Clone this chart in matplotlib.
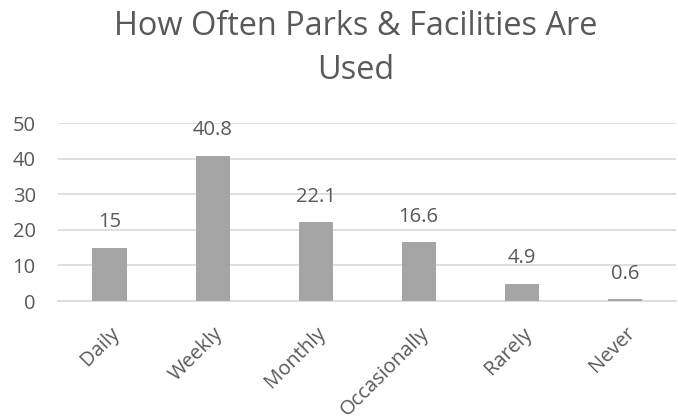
import matplotlib.pyplot as plt

categories = ["Daily", "Weekly", "Monthly", "Occasionally", "Rarely", "Never"]
values = [15, 40.8, 22.1, 16.6, 4.9, 0.6]
labels = ["15", "40.8", "22.1", "16.6", "4.9", "0.6"]
yticks = [0, 10, 20, 30, 40, 50]

plt.rcParams['font.family'] = ['Open Sans', 'DejaVu Sans']
text_color = '#595959'

fig = plt.figure(figsize=(6.78, 4.19), dpi=100)
ax = fig.add_axes([0.0855, 0.2816, 0.912, 0.4248])

x = range(len(categories))
bars = ax.bar(x, values, width=0.33, color='#A5A5A5', zorder=3)
for i, (v, lab) in enumerate(zip(values, labels)):
    ax.annotate(lab, (i, v), xytext=(0, 11), textcoords='offset points',
                ha='center', va='bottom', fontsize=14.5, color=text_color)

ax.set_xlim(-0.5, len(categories) - 0.5)
ax.set_ylim(0, 50)
ax.set_yticks(yticks)
ax.set_xticks(list(x))
ax.set_xticklabels(categories, rotation=45, ha='right', rotation_mode='anchor')
ax.tick_params(axis='both', length=0, colors=text_color, labelsize=14.5)
ax.tick_params(axis='y', pad=16)
ax.tick_params(axis='x', pad=16)
ax.grid(axis='y', color='#D9D9D9', linewidth=1.2, zorder=0)
for s in ['top', 'right', 'left']:
    ax.spines[s].set_visible(False)
ax.spines['bottom'].set_color('#D9D9D9')
ax.spines['bottom'].set_linewidth(1.2)

fig.text(0.524, 0.885, "How Often Parks & Facilities Are\nUsed", ha='center', va='center',
         fontsize=23.4, color=text_color, linespacing=1.45)

fig.savefig("out.png", dpi=100)
